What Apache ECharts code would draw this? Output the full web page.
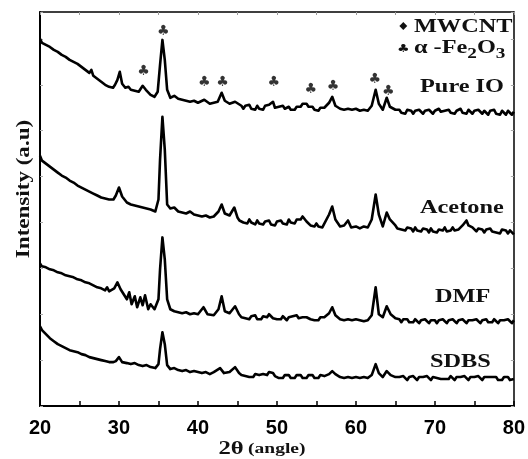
<!DOCTYPE html>
<html>
<head>
<meta charset="utf-8">
<script src="https://cdn.jsdelivr.net/npm/echarts@6/dist/echarts.min.js"></script>
<style>html,body{margin:0;padding:0;background:#fff}#c{width:528px;height:459px}</style>
</head>
<body>
<div id="c"></div>
<script>
// 2θ (deg) and intensity (a.u., stacked offsets as drawn)
const pureIO = [[20,368],[20.25,364],[20.5,366],[20.75,362],[21,363],[21.25,360],[21.5,362],[21.75,357],[22,358],[22.25,355],[22.5,357],[22.75,352],[23,353],[23.25,350],[23.5,352],[23.75,347],[24,349],[24.25,345],[24.5,347],[24.75,343],[25,344],[25.25,340],[25.5,342],[25.75,337],[26,339],[26.25,334],[26.5,337],[26.75,331],[27,332],[27.25,328],[27.5,330],[27.75,325],[28,326],[28.25,322],[28.5,324],[28.75,320],[29,322],[29.25,319],[29.5,322],
[29.8,327],[30.1,335],[30.4,323],[30.8,319],[31.2,320],[31.5,317],[32,316],[32.5,315],[33,321],[33.4,317],[34,312],[34.5,310],[34.9,315],[35.2,342],[35.5,367],[35.8,347],[36.1,317],[36.5,309],[37,311],[37.5,308],[38,307],[38.5,306],[39,305],[39.5,306],[40,304],[40.8,307],[41.5,303],[42,304],[42.5,305],[43,314],[43.4,306],[44,303],[44.7,305],
[45.5,301],[45.75,298],[46,301],[46.25,299],[46.5,302],[46.75,298],[47,300],[47.25,297],[47.5,301],[47.75,298],[48,300],[48.25,297],[48.5,301],[48.75,299],[49,302],[49.25,301],[49.5,305],[49.75,299],[50,297],[50.25,300],[50.5,298],[50.75,301],[51,298],[51.25,296],[51.5,300],[51.75,297],[52,299],[52.25,297],[52.5,300],[52.75,302],[53,300],[53.25,303],[53.5,301],[53.75,303],[54,300],[54.25,298],[54.5,300],[54.75,297],[55,298],[55.25,296],[55.5,299],[55.75,297],[56,299],
[56.6,304],[57,310],[57.4,301],[58,298],[58.5,297],[59,298],[59.5,297],[60,298],[60.5,296],[61,297],[61.5,296],[62,301],[62.5,317],[62.9,303],[63.4,297],[63.9,309],[64.3,300],
[65,297],[65.25,295],[65.5,297],[65.75,294],[66,296],[66.25,293],[66.5,297],[66.75,295],[67,296],[67.25,293],[67.5,296],[67.75,294],[68,297],[68.25,295],[68.5,293],[68.75,296],[69,294],[69.25,297],[69.5,295],[69.75,293],[70,296],[70.25,294],[70.5,298],[70.75,295],[71,293],[71.25,296],[71.5,294],[71.75,297],[72,294],[72.25,296],[72.5,293],[72.75,296],[73,295],[73.25,298],[73.5,294],[73.75,296],[74,293],[74.25,297],[74.5,295],[74.75,293],[75,296],[75.25,294],[75.5,297],[75.75,295],[76,293],[76.25,296],[76.5,294],[76.75,292],[77,296],[77.25,294],[77.5,297],[77.75,293],[78,295],[78.25,292],[78.5,296],[78.75,294],[79,292],[79.25,296],[79.5,294],[79.75,292],[80,295]];
const acetone = [[20,251],[20.25,246],[20.5,247],[20.75,243],[21,245],[21.25,240],[21.5,242],[21.75,237],[22,239],[22.25,234],[22.5,236],[22.75,231],[23,233],[23.25,229],[23.5,231],[23.75,226],[24,228],[24.25,224],[24.5,226],[24.75,221],[25,223],[25.25,219],[25.5,221],[25.75,217],[26,219],[26.25,215],[26.5,217],[26.75,213],[27,215],[27.25,211],[27.5,213],[27.75,209],[28,211],[28.25,208],[28.5,210],[28.75,207],[29,209],[29.3,207],[29.6,211],
[30,219],[30.4,210],[31,204],[31.5,202],[32,201],[32.5,200],[33,199],[33.5,198],[34,197],[34.6,195],[35,207],[35.2,247],[35.5,290],[35.8,257],[36.1,202],[36.5,198],[37,199],[37.5,195],[38,194],[38.5,193],[39,195],[39.5,192],[40,191],[40.5,190],[41,191],[41.5,189],[42,190],[42.6,195],[43,202],[43.4,193],[44,191],[44.6,199],
[45,189],[45.25,186],[45.5,188],[45.75,184],[46,186],[46.25,183],[46.5,187],[46.75,184],[47,185],[47.25,182],[47.5,186],[47.75,183],[48,185],[48.25,182],[48.5,185],[48.75,183],[49,186],[49.25,182],[49.5,184],[49.75,181],[50,185],[50.25,183],[50.5,186],[50.75,183],[51,185],[51.25,182],[51.5,187],[51.75,184],[52,186],[52.25,183],[52.5,187],[52.75,189],[53,187],[53.25,190],[53.5,188],[53.75,185],[54,184],[54.25,181],[54.5,183],[54.75,180],[55,183],[55.25,180],[55.5,182],[55.75,179],[56,181],
[56.6,192],[57,200],[57.4,187],[58,180],[58.5,181],[59,186],[59.4,179],[60,180],[60.5,178],[61,180],[61.5,179],[62,187],[62.5,212],[62.9,192],[63.4,180],[63.9,194],[64.3,187],
[65,181],[65.25,178],[65.5,180],[65.75,177],[66,179],[66.25,176],[66.5,179],[66.75,177],[67,178],[67.25,175],[67.5,179],[67.75,176],[68,178],[68.25,175],[68.5,178],[68.75,176],[69,177],[69.25,174],[69.5,178],[69.75,175],[70,177],[70.25,174],[70.5,177],[70.75,175],[71,176],[71.25,179],[71.5,175],[71.75,177],[72,176],[72.25,179],[72.5,176],[72.75,178],[73,177],[73.5,181],[73.75,183],[74,186],[74.25,181],[74.5,183],[74.75,179],[75,178],[75.25,175],[75.5,178],[75.75,176],[76,177],[76.25,174],[76.5,177],[76.75,175],[77,178],[77.25,175],[77.5,177],[77.75,174],[78,176],[78.25,173],[78.5,177],[78.75,175],[79,176],[79.25,173],[79.5,176],[79.75,174],[80,172]];
const dmf = [[20,143],[20.25,140],[20.5,142],[20.75,139],[21,141],[21.25,137],[21.5,139],[21.75,136],[22,138],[22.25,134],[22.5,136],[22.75,133],[23,135],[23.25,131],[23.5,133],[23.75,130],[24,132],[24.25,129],[24.5,131],[24.75,127],[25,129],[25.25,126],[25.5,128],[25.75,124],[26,126],[26.25,123],[26.5,125],[26.75,121],[27,123],[27.25,119],[27.5,121],[27.75,118],[28,120],[28.25,116],[28.5,119],[28.75,115],[29,117],[29.4,118],
[29.8,124],[30.2,117],[30.6,112],[31,107],[31.3,114],[31.6,102],[32,110],[32.3,99],[32.7,109],[33,101],[33.3,111],[33.7,97],[34,102],[34.5,97],[35,107],[35.2,137],[35.5,169],[35.8,147],[36.1,107],[36.5,97],[37,95],[37.5,94],[38,93],[38.5,94],[39,92],[39.5,93],[40,92],[40.7,99],[41.2,92],[42,91],[42.6,97],[43,110],[43.4,95],[44,93],[44.7,100],
[45.2,92],[45.5,89],[45.75,91],[46,88],[46.25,90],[46.5,87],[46.75,90],[47,88],[47.25,91],[47.5,87],[47.75,89],[48,87],[48.25,90],[48.5,91],[48.75,89],[49,92],[49.25,90],[49.5,88],[49.75,90],[50,87],[50.25,89],[50.5,87],[50.75,90],[51,88],[51.25,86],[51.5,89],[51.75,87],[52,90],[52.25,88],[52.5,91],[52.75,88],[53,87],[53.25,89],[53.5,91],[53.75,89],[54,90],[54.25,87],[54.5,89],[54.75,86],[55,88],[55.25,86],[55.5,89],[55.75,87],[56,89],
[56.6,93],[57,99],[57.4,91],[58,87],[58.5,86],[59,87],[59.5,86],[60,87],[60.5,86],[61,85],[61.5,86],[62,91],[62.5,119],[62.9,92],[63.4,89],[63.9,100],[64.4,92],
[65,88],[65.25,86],[65.5,87],[65.75,84],[66,87],[66.25,85],[66.5,87],[66.75,84],[67,86],[67.25,84],[67.5,87],[67.75,85],[68,83],[68.25,86],[68.5,84],[68.75,87],[69,85],[69.25,83],[69.5,86],[69.75,84],[70,86],[70.25,83],[70.5,86],[70.75,84],[71,87],[71.25,85],[71.5,83],[71.75,86],[72,84],[72.25,87],[72.5,85],[72.75,83],[73,86],[73.25,84],[73.5,87],[73.75,85],[74,83],[74.25,86],[74.5,84],[74.75,86],[75,84],[75.25,87],[75.5,85],[75.75,83],[76,86],[76.25,84],[76.5,87],[76.75,84],[77,86],[77.25,84],[77.5,87],[77.75,85],[78,83],[78.25,86],[78.5,84],[78.75,86],[79,84],[79.25,87],[79.5,85],[79.75,83],[80,86]];
const sdbs = [[20,80],[20.25,76],[20.5,77],[20.75,72],[21,72],[21.25,68],[21.5,69],[21.75,65],[22,66],[22.25,62],[22.5,63],[22.75,60],[23,61],[23.25,58],[23.5,60],[23.75,56],[24,58],[24.25,55],[24.5,57],[24.75,54],[25,56],[25.25,52],[25.5,54],[25.75,51],[26,53],[26.25,49],[26.5,51],[26.75,48],[27,50],[27.25,47],[27.5,49],[27.75,46],[28,48],[28.25,45],[28.5,47],[28.75,44],[29,46],[29.3,44],[29.6,45],
[30,49],[30.4,44],[31,43],[31.5,42],[32,43],[32.5,41],[33,40],[33.5,41],[34,39],[34.6,38],[35,42],[35.2,57],[35.5,74],[35.8,62],[36.1,41],[36.5,37],[37,38],[37.5,36],[38,35],[38.5,36],[39,34],[39.5,35],[40,34],[40.5,33],[41,34],[41.5,32],[42,34],[42.8,38],[43.3,33],[44,34],[44.7,39],
[45.2,33],[45.5,31],[45.75,32],[46,30],[46.25,32],[46.5,29],[46.75,31],[47,29],[47.25,32],[47.5,30],[47.75,31],[48,29],[48.25,32],[48.5,33],[48.75,31],[49,34],[49.25,32],[49.5,33],[49.75,30],[50,31],[50.25,28],[50.5,30],[50.75,28],[51,31],[51.25,29],[51.5,31],[51.75,28],[52,30],[52.25,28],[52.5,31],[52.75,29],[53,31],[53.25,28],[53.5,30],[53.75,28],[54,31],[54.25,29],[54.5,31],[54.75,28],[55,30],[55.25,28],[55.5,31],[55.75,29],[56,30],
[56.6,32],[57,35],[57.4,32],[58,29],[58.5,28],[59,29],[59.5,28],[60,29],[60.5,28],[61,29],[61.5,28],[62,31],[62.5,42],[62.9,33],[63.4,29],[63.9,35],[64.4,31],
[65,29],[65.25,27],[65.5,29],[65.75,27],[66,30],[66.25,28],[66.5,26],[66.75,29],[67,27],[67.25,30],[67.5,28],[67.75,26],[68,29],[68.25,27],[68.5,29],[68.75,27],[69,30],[69.25,28],[69.5,26],[69.75,29],[70,31],[70.25,28],[70.5,30],[70.75,27],[71,29],[71.25,27],[71.5,29],[71.75,27],[72,30],[72.25,28],[72.5,26],[72.75,29],[73,27],[73.25,29],[73.5,27],[73.75,30],[74,28],[74.25,26],[74.5,29],[74.75,27],[75,29],[75.25,27],[75.5,30],[75.75,28],[76,26],[76.25,29],[76.5,27],[76.75,29],[77,27],[77.25,29],[77.5,27],[77.75,29],[78,26],[78.25,28],[78.5,26],[78.75,29],[79,27],[79.25,29],[79.5,26],[79.75,28],[80,27]];
// α-Fe2O3 reflection markers (2θ, height)
const clubMarks = [[33.1,335],[35.6,376],[40.8,324],[43.1,324],[49.6,324],[54.3,317],[57.1,320],[62.4,327],[64.1,315]];
const seriesNames = ['Pure IO','Acetone','DMF','SDBS'];
const xTicks = [20,30,40,50,60,70,80];

const chart = echarts.init(document.getElementById('c'), null, {renderer:'canvas'});
const serifBold = {fontFamily:'Liberation Serif', fontWeight:'bold'};
const lineSeries = [pureIO, acetone, dmf, sdbs].map((d,i)=>({
  name: seriesNames[i], type:'line', data:d, showSymbol:false, symbol:'none',
  lineStyle:{color:'#000', width:2.6, join:'round'}, z:3, animation:false
}));
const SX = 1.28;
chart.setOption({
  animation:false,
  grid:{left:40, right:13, top:12, bottom:53},
  xAxis:[{
    type:'value', min:20, max:80, interval:10, position:'bottom',
    axisLine:{onZero:false, lineStyle:{color:'#000', width:2}},
    axisTick:{inside:true, length:5, lineStyle:{color:'#000', width:1.5}},
    minorTick:{show:true, splitNumber:2, length:5, lineStyle:{color:'#000', width:1.5}},
    splitLine:{show:false},
    axisLabel:{fontFamily:'Liberation Sans', fontWeight:'bold', fontSize:20, color:'#000', margin:12,
      formatter:v=>xTicks.includes(v)?String(v):''}
  },{
    type:'value', min:20, max:80, interval:10, position:'top',
    axisLine:{onZero:false, lineStyle:{color:'#000', width:1.5}},
    axisTick:{inside:true, length:3, lineStyle:{color:'#999', width:1}},
    minorTick:{show:true, splitNumber:2, length:3, lineStyle:{color:'#999', width:1}},
    splitLine:{show:false}, axisLabel:{show:false}
  }],
  yAxis:[{
    type:'value', min:0, max:395, interval:46, position:'left',
    axisLine:{show:true, onZero:false, lineStyle:{color:'#000', width:2}},
    axisTick:{show:true, inside:true, length:3, lineStyle:{color:'#aaa', width:1}},
    splitLine:{show:false}, axisLabel:{show:false}
  },{
    type:'value', min:0, max:395, interval:46, position:'right',
    axisLine:{show:true, onZero:false, lineStyle:{color:'#000', width:1.5}},
    axisTick:{show:true, inside:true, length:3, lineStyle:{color:'#aaa', width:1}},
    splitLine:{show:false}, axisLabel:{show:false}
  }],
  series: lineSeries.concat([{
    type:'scatter', data:clubMarks, symbolSize:0, z:4,
    label:{show:true, position:'inside', formatter:'♣', fontFamily:'DejaVu Sans', fontSize:14, color:'#000'}
  }]),
  graphic:[
    {type:'text', x:24, y:189, rotation:Math.PI/2, scaleX:SX, style:{text:'Intensity (a.u)', ...serifBold, fontSize:18, align:'center', verticalAlign:'middle', fill:'#111'}},
    {type:'text', x:262, y:449, scaleX:1.3, style:{text:'{a|2θ} {b|(angle)}', align:'center', verticalAlign:'middle', fill:'#111',
      rich:{a:{fontFamily:'Liberation Serif', fontWeight:'bold', fontSize:19, fill:'#111'}, b:{fontFamily:'Liberation Serif', fontWeight:'bold', fontSize:15, fill:'#111'}}}},
    {type:'text', x:397, y:27, scaleX:SX, style:{text:'{d|♦} {t|MWCNT}', verticalAlign:'middle', fill:'#111',
      rich:{d:{fontFamily:'DejaVu Sans', fontSize:11, fill:'#111'}, t:{fontFamily:'Liberation Serif', fontWeight:'bold', fontSize:19, fill:'#111'}}}},
    {type:'text', x:397, y:39, scaleX:SX, style:{text:'{d|♣} {t|α -Fe}{s|2}{t|O}{s|3}', verticalAlign:'top', fill:'#111',
      rich:{d:{fontFamily:'DejaVu Sans', fontSize:11, fill:'#111', verticalAlign:'top', padding:[5,0,0,0]},
            t:{fontFamily:'Liberation Serif', fontWeight:'bold', fontSize:19, fill:'#111', verticalAlign:'top'},
            s:{fontFamily:'Liberation Serif', fontWeight:'bold', fontSize:15, fill:'#111', verticalAlign:'top', padding:[8,0,0,0]}}}},
    {type:'text', x:420, y:87, scaleX:SX, style:{text:'Pure IO', ...serifBold, fontSize:19, verticalAlign:'middle', fill:'#111'}},
    {type:'text', x:420, y:208, scaleX:SX, style:{text:'Acetone', ...serifBold, fontSize:19, verticalAlign:'middle', fill:'#111'}},
    {type:'text', x:435, y:297, scaleX:SX, style:{text:'DMF', ...serifBold, fontSize:19, verticalAlign:'middle', fill:'#111'}},
    {type:'text', x:430, y:362, scaleX:SX, style:{text:'SDBS', ...serifBold, fontSize:19, verticalAlign:'middle', fill:'#111'}}
  ]
});
</script>
</body>
</html>
